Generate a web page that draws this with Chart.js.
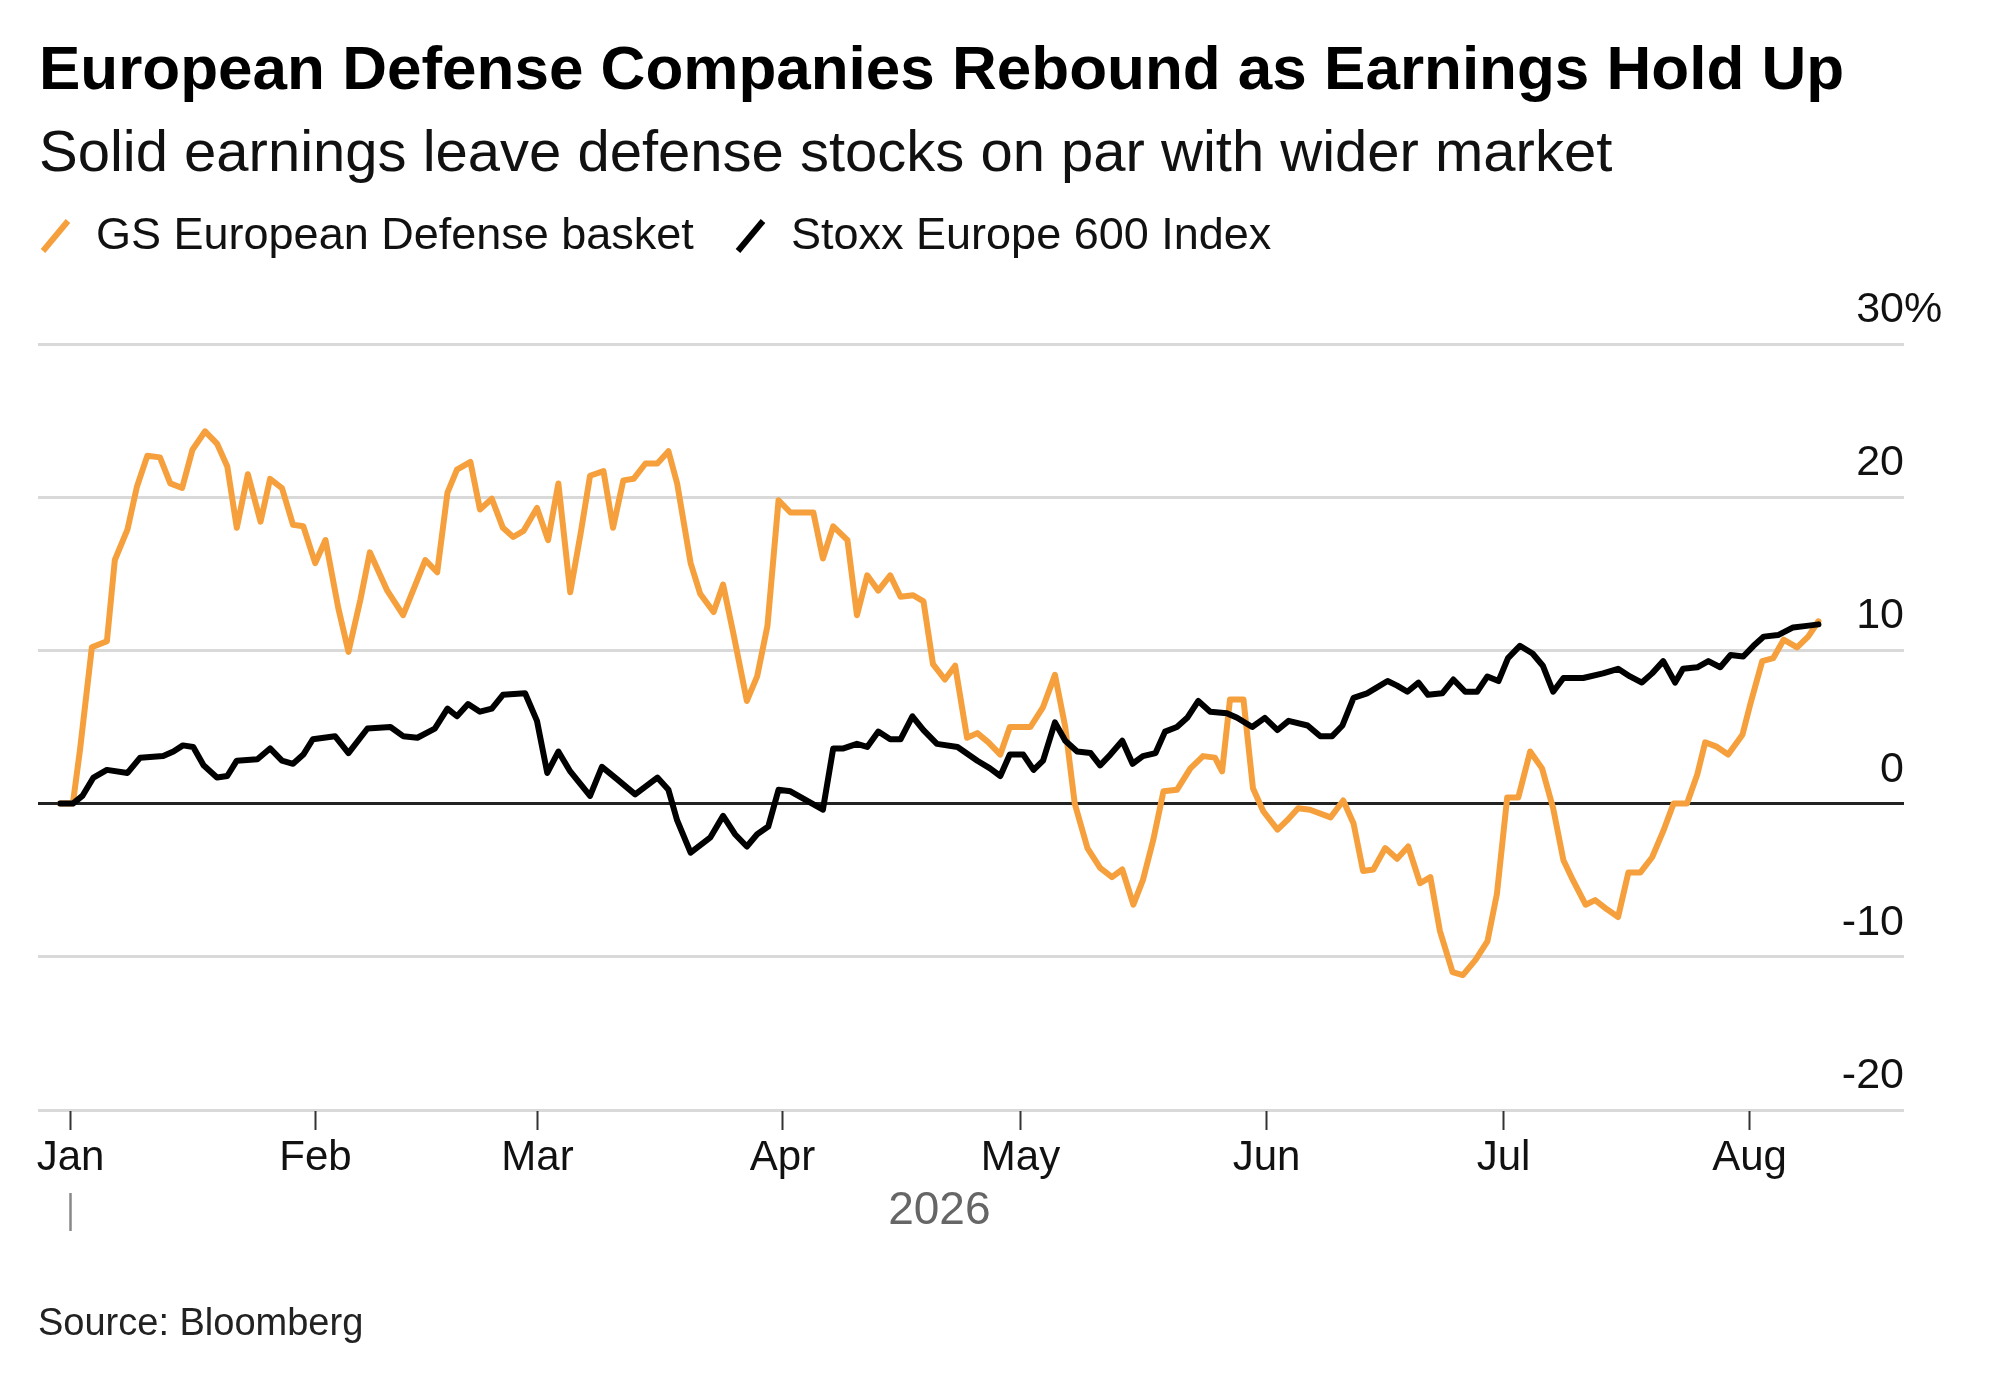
<!DOCTYPE html>
<html>
<head>
<meta charset="utf-8">
<script src="https://cdn.jsdelivr.net/npm/chart.js@4.4.1/dist/chart.umd.min.js"></script>
<style>
  html, body { margin: 0; padding: 0; background: #fff; }
  body { width: 2000px; height: 1389px; position: relative; overflow: hidden; font-family: "Liberation Sans", Arial, sans-serif; }
  .t { position: absolute; white-space: nowrap; line-height: 1; }
  #title { left: 39px; top: 37px; font-size: 62px; font-weight: bold; color: #000; }
  #subtitle { left: 39px; top: 122px; font-size: 58px; color: #111; }
  .leg { top: 211px; font-size: 45px; color: #111; }
  #source { left: 38px; top: 1303px; font-size: 38px; color: #222; }
  #chart { position: absolute; left: 0; top: 0; }
  svg { position: absolute; left: 0; top: 0; }
</style>
</head>
<body>
<canvas id="chart" width="2000" height="1389"></canvas>
<div class="t" id="title">European Defense Companies Rebound as Earnings Hold Up</div>
<div class="t" id="subtitle">Solid earnings leave defense stocks on par with wider market</div>
<svg width="2000" height="300">
  <line x1="43" y1="251" x2="68" y2="221" stroke="#F5A03C" stroke-width="6"/>
  <line x1="738" y1="251" x2="763" y2="221" stroke="#000" stroke-width="6"/>
</svg>
<div class="t leg" style="left:96px">GS European Defense basket</div>
<div class="t leg" style="left:791px">Stoxx Europe 600 Index</div>
<div class="t" id="source">Source: Bloomberg</div>
<script>
// Days counted from 1 Jan 2026 (day 0 = Jan 1)
const monthLabels = ['Jan', 'Feb', 'Mar', 'Apr', 'May', 'Jun', 'Jul', 'Aug'];
const monthStartDay = [0, 31, 59, 90, 120, 151, 181, 212];
const yTicks = [-20, -10, 0, 10, 20, 30];
const yearLabel = '2026';
const seriesNames = ['GS European Defense basket', 'Stoxx Europe 600 Index'];

// GS European Defense basket, % change
const defenseDay = [-1.2, 0.4, 1.3, 2.8, 4.7, 5.7, 7.3, 8.5, 9.8, 11.4, 12.7, 14.2, 15.5, 17.1, 18.6, 19.9, 21.1, 22.5, 24.1, 25.3,
  26.8, 28.2, 29.5, 31.0, 32.3, 33.9, 35.2, 36.7, 37.9, 40.1, 42.1, 44.9, 46.4, 47.7, 48.9, 50.6, 51.8, 53.3, 54.7, 56.0,
  57.3, 59.0, 60.4, 61.7, 63.2, 64.5, 65.7, 67.4, 68.6, 69.9, 71.2, 72.7, 74.2, 75.6, 76.7, 78.4, 79.6, 81.3, 82.5, 83.8,
  85.5, 86.8, 88.1, 89.5, 91.0, 93.9, 95.1, 96.4, 98.2, 99.4, 100.7, 102.1, 103.6, 104.9, 106.5, 107.8, 109.0, 110.5, 111.8, 113.3,
  114.6, 116.0, 117.5, 118.7, 121.3, 122.9, 124.4, 125.7, 126.9, 128.5, 130.1, 131.6, 132.9, 134.3, 135.5, 136.8, 138.1, 139.8, 141.5, 143.1,
  144.6, 145.5, 146.5, 148.2, 149.4, 150.7, 152.5, 153.7, 155.1, 156.6, 159.2, 160.8, 162.1, 163.3, 164.6, 166.1, 167.6, 169.0, 170.5, 171.8,
  173.0, 174.6, 175.9, 177.5, 179.0, 180.2, 181.5, 182.9, 184.4, 185.9, 187.3, 188.6, 189.8, 191.4, 192.6, 194.1, 195.5, 196.8, 198.3, 199.8,
  201.2, 202.5, 204.2, 205.5, 206.5, 208.0, 209.4, 211.2, 212.2, 213.7, 215.1, 216.4, 218.1, 219.5, 220.8];
const defenseValue = [0, 0, 3.5, 10.2, 10.6, 15.9, 17.9, 20.7, 22.7, 22.6, 20.9, 20.6, 23.1, 24.3, 23.5, 22.0, 18.0, 21.5, 18.4, 21.2,
  20.6, 18.2, 18.1, 15.7, 17.2, 12.8, 9.9, 13.3, 16.4, 13.9, 12.3, 15.9, 15.1, 20.3, 21.8, 22.3, 19.2, 19.9, 18.0, 17.4,
  17.8, 19.3, 17.2, 20.9, 13.8, 17.6, 21.4, 21.7, 18.0, 21.1, 21.2, 22.2, 22.2, 23.0, 20.9, 15.7, 13.7, 12.5, 14.3, 11.1,
  6.7, 8.3, 11.6, 19.8, 19.0, 19.0, 16.0, 18.1, 17.2, 12.3, 14.9, 13.9, 14.9, 13.5, 13.6, 13.2, 9.1, 8.1, 9.0, 4.3,
  4.6, 4.0, 3.2, 5.0, 5.0, 6.3, 8.4, 5.0, 0.0, -2.9, -4.2, -4.8, -4.3, -6.6, -5.0, -2.4, 0.8, 0.9, 2.3, 3.1,
  3.0, 2.1, 6.8, 6.8, 1.0, -0.5, -1.7, -1.1, -0.3, -0.4, -0.9, 0.2, -1.3, -4.4, -4.3, -2.9, -3.6, -2.8, -5.2, -4.8,
  -8.3, -11.0, -11.2, -10.2, -9.0, -5.9, 0.4, 0.4, 3.4, 2.3, -0.3, -3.7, -5.0, -6.6, -6.3, -6.9, -7.4, -4.5, -4.5, -3.5,
  -1.8, 0.0, 0.0, 1.9, 4.0, 3.7, 3.2, 4.5, 6.5, 9.3, 9.5, 10.7, 10.2, 10.9, 11.9];

// Stoxx Europe 600 Index, % change
const stoxxDay = [-1.2, 0.4, 1.6, 3.0, 4.7, 7.3, 8.9, 11.8, 13.1, 14.3, 15.6, 16.9, 18.6, 19.9, 21.1, 23.7, 25.3, 26.8, 28.2, 29.5,
  30.7, 33.5, 35.2, 37.6, 40.5, 42.1, 43.9, 46.1, 47.7, 48.9, 50.3, 51.8, 53.3, 54.7, 57.5, 59.0, 60.3, 61.7, 63.2, 65.7,
  67.2, 69.1, 71.4, 74.2, 75.6, 76.7, 78.4, 80.9, 82.5, 84.0, 85.5, 86.8, 88.2, 89.5, 91.0, 95.1, 96.4, 97.7, 99.4, 100.7,
  102.1, 103.6, 104.9, 106.4, 107.8, 109.5, 112.1, 114.6, 116.2, 117.5, 118.7, 120.4, 121.7, 122.9, 124.4, 125.7, 127.2, 128.9, 130.1, 131.4,
  132.9, 134.2, 135.5, 137.1, 138.3, 139.8, 141.1, 142.5, 144.0, 146.1, 147.4, 149.3, 150.9, 152.5, 153.9, 156.3, 157.9, 159.4, 160.7, 162.1,
  163.8, 164.8, 166.4, 167.6, 168.9, 170.3, 171.5, 173.3, 174.7, 176.2, 177.7, 179.0, 180.4, 181.6, 183.1, 184.7, 186.0, 187.3, 188.6, 191.1,
  193.6, 195.5, 197.0, 198.5, 199.8, 201.2, 202.7, 203.7, 205.5, 206.9, 208.4, 209.7, 211.3, 212.6, 213.9, 215.7, 217.6, 219.3, 220.8];
const stoxxValue = [0, 0, 0.5, 1.7, 2.2, 2.0, 3.0, 3.1, 3.4, 3.8, 3.7, 2.5, 1.7, 1.8, 2.8, 2.9, 3.6, 2.8, 2.6, 3.2,
  4.2, 4.4, 3.3, 4.9, 5.0, 4.4, 4.3, 4.9, 6.2, 5.7, 6.5, 6.0, 6.2, 7.1, 7.2, 5.4, 2.0, 3.4, 2.1, 0.5,
  2.4, 1.6, 0.6, 1.7, 0.9, -1.1, -3.2, -2.2, -0.8, -2.0, -2.8, -2.0, -1.5, 0.9, 0.8, -0.4, 3.6, 3.6, 3.9, 3.7,
  4.7, 4.2, 4.2, 5.7, 4.8, 3.9, 3.7, 2.8, 2.3, 1.8, 3.2, 3.2, 2.2, 2.8, 5.3, 4.1, 3.4, 3.3, 2.5, 3.2,
  4.1, 2.6, 3.1, 3.3, 4.7, 5.0, 5.6, 6.7, 6.0, 5.9, 5.6, 5.0, 5.6, 4.8, 5.4, 5.1, 4.4, 4.4, 5.1, 6.9,
  7.2, 7.5, 8.0, 7.7, 7.3, 7.9, 7.1, 7.2, 8.1, 7.3, 7.3, 8.3, 8.0, 9.5, 10.3, 9.8, 9.0, 7.3, 8.2, 8.2,
  8.5, 8.8, 8.3, 7.9, 8.5, 9.3, 7.9, 8.8, 8.9, 9.3, 8.9, 9.7, 9.6, 10.3, 10.9, 11.0, 11.5, 11.6, 11.7];

const ORANGE = '#F5A03C';
const FONT = '"Liberation Sans", Arial, sans-serif';

function pts(days, vals) { return days.map((d, i) => ({ x: d, y: vals[i] })); }

const axisDecor = {
  id: 'axisDecor',
  afterDraw(chart) {
    const ctx = chart.ctx;
    const x = chart.scales.x, y = chart.scales.y;
    const area = chart.chartArea;
    ctx.save();
    // y labels
    ctx.fillStyle = '#111';
    ctx.font = '43px ' + FONT;
    ctx.textBaseline = 'alphabetic';
    yTicks.forEach(v => {
      const py = y.getPixelForValue(v) - 22;
      ctx.textAlign = 'right';
      ctx.fillText(String(v), area.right, py);
      if (v === yTicks[yTicks.length - 1]) {
        ctx.textAlign = 'left';
        ctx.fillText('%', area.right, py);
      }
    });
    // x ticks and labels
    ctx.strokeStyle = '#333';
    ctx.lineWidth = 2;
    ctx.font = '42px ' + FONT;
    ctx.textAlign = 'center';
    monthStartDay.forEach((d, i) => {
      const px = Math.round(x.getPixelForValue(d)) + 0.5;
      ctx.beginPath();
      ctx.moveTo(px, area.bottom + 1);
      ctx.lineTo(px, area.bottom + 20);
      ctx.stroke();
      ctx.fillText(monthLabels[i], px, area.bottom + 60);
    });
    // year marker
    const p0 = Math.round(x.getPixelForValue(monthStartDay[0])) + 0.5;
    ctx.strokeStyle = '#888';
    ctx.lineWidth = 2.5;
    ctx.beginPath();
    ctx.moveTo(p0, area.bottom + 83);
    ctx.lineTo(p0, area.bottom + 121);
    ctx.stroke();
    const mid = (x.getPixelForValue(defenseDay[0]) + x.getPixelForValue(defenseDay[defenseDay.length - 1])) / 2;
    ctx.fillStyle = '#666';
    ctx.font = '46px ' + FONT;
    ctx.fillText(yearLabel, mid, area.bottom + 114);
    ctx.restore();
  }
};

new Chart(document.getElementById('chart'), {
  type: 'line',
  data: {
    datasets: [
      { label: seriesNames[0], data: pts(defenseDay, defenseValue), borderColor: ORANGE, borderWidth: 6,
        pointRadius: 0, tension: 0, borderJoinStyle: 'round', borderCapStyle: 'round', order: 1, fill: false },
      { label: seriesNames[1], data: pts(stoxxDay, stoxxValue), borderColor: '#000', borderWidth: 6,
        pointRadius: 0, tension: 0, borderJoinStyle: 'round', borderCapStyle: 'round', order: 0, fill: false }
    ]
  },
  options: {
    responsive: false,
    animation: false,
    devicePixelRatio: 1,
    layout: { padding: { left: 38, right: 96, top: 344, bottom: 279 } },
    plugins: { legend: { display: false }, tooltip: { enabled: false }, title: { display: false } },
    scales: {
      x: { type: 'linear', min: -4, max: 231.6, display: false },
      y: {
        type: 'linear', min: -20, max: 30,
        ticks: { display: false, stepSize: 10 },
        border: { display: false },
        grid: {
          drawTicks: false,
          lineWidth: 3,
          color: c => (c.tick && c.tick.value === 0) ? '#222' : '#d9d9d9'
        }
      }
    }
  },
  plugins: [axisDecor]
});
</script>
</body>
</html>
